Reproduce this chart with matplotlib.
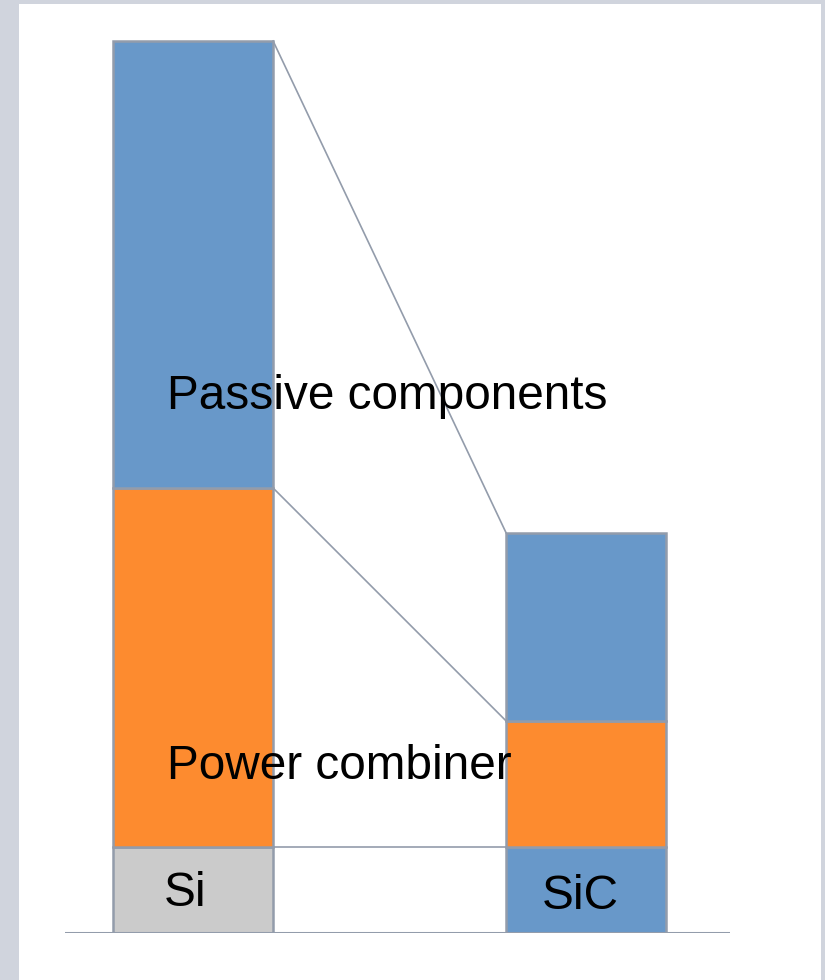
import matplotlib.pyplot as plt
from matplotlib.patches import Rectangle
import numpy as np

plt.rcParams['font.family'] = ['Liberation Sans', 'DejaVu Sans']

# stacked heights (arbitrary units)
designs = ["Si", "SiC"]
device = [0.86, 0.86]
combiner = [3.59, 1.26]
passive = [4.47, 1.88]
device_colors = ["#cbcbcb", "#6898c9"]

blue = "#6898c9"
orange = "#fd8b2f"
edge = "#939cab"

fig = plt.figure(figsize=(8.25, 9.8), dpi=100)
fig.patch.set_facecolor("#d0d4dd")
fig.patches.append(Rectangle((19 / 825, 0), 802 / 825, 976 / 980,
                             transform=fig.transFigure, facecolor="white",
                             edgecolor="none", zorder=-10))

ax = fig.add_axes([65 / 825, 47 / 980, 665 / 825, 900 / 980])
ax.set_facecolor("none")

x = np.arange(len(designs))
w = 0.407
dev = np.array(device)
comb = np.array(combiner)
pas = np.array(passive)

ax.bar(x, dev, w, color=device_colors, edgecolor=edge, linewidth=1.8, zorder=3)
ax.bar(x, comb, w, bottom=dev, color=orange, edgecolor=edge, linewidth=1.8, zorder=3)
ax.bar(x, pas, w, bottom=dev + comb, color=blue, edgecolor=edge, linewidth=1.8, zorder=3)

# connectors between the two stacks
levels = [dev, dev + comb, dev + comb + pas]
for lv in levels:
    ax.plot([x[0] + w / 2, x[1] - w / 2], [lv[0], lv[1]], color=edge,
            linewidth=1.2, zorder=2)

ax.axhline(0, color=edge, linewidth=2.2, zorder=4)

ax.text(-0.066, 5.37, "Passive components", fontsize=34.4, va="center", ha="left", zorder=5)
ax.text(-0.066, 1.67, "Power combiner", fontsize=34.4, va="center", ha="left", zorder=5)
ax.text(x[0] - 0.02, 0.40, designs[0], fontsize=34.4, va="center", ha="center", zorder=5)
ax.text(x[1] - 0.015, 0.37, designs[1], fontsize=34.4, va="center", ha="center", zorder=5)

ax.set_xlim(-0.326, 1.366)
ax.set_ylim(0, 9.0)
ax.axis("off")

fig.savefig("out.png", dpi=100, facecolor=fig.get_facecolor())
